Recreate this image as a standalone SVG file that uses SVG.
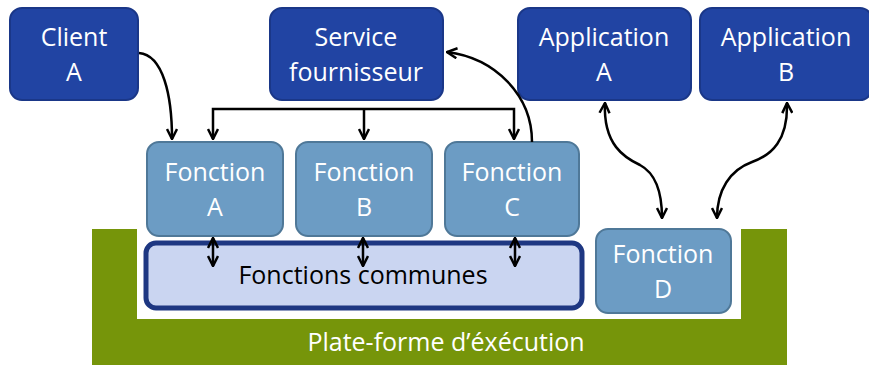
<svg xmlns="http://www.w3.org/2000/svg" width="869" height="365" viewBox="0 0 869 365">
<defs>
<style>
.top rect{fill:#2144A3;stroke:#1A3788;stroke-width:2}
.fn rect{fill:#6C9CC4;stroke:#4F7898;stroke-width:2}
text{font-family:"Open Sans","Liberation Sans",sans-serif;font-size:25px;text-anchor:middle}
.top text,.fn text,.plat text{fill:#fff}
.con path{fill:none;stroke:#000;stroke-width:2.5}
</style>
<marker id="ah" viewBox="0 0 10 10" refX="9" refY="5" markerWidth="5" markerHeight="5" orient="auto-start-reverse" markerUnits="strokeWidth">
<path d="M1,1 L9,5 L1,9" fill="none" stroke="#000" stroke-width="2"/>
</marker>
</defs>
<rect width="869" height="365" fill="#fff"/>
<g id="plateforme" class="plat">
<path d="M92,229 H137 V319 H741 V229 H787 V365 H92 Z" fill="#76950A"/>
<text x="446" y="351">Plate-forme d’éxécution</text>
</g>
<g id="communes">
<rect x="146" y="243" width="436" height="65" rx="10" fill="#CAD5F1" stroke="#1E3782" stroke-width="5"/>
<text x="363" y="284" fill="#000">Fonctions communes</text>
</g>
<g id="clientA" class="top"><rect x="10" y="8" width="128" height="92" rx="12"/><text x="74" y="46">Client</text><text x="74" y="81">A</text></g>
<g id="service" class="top"><rect x="270" y="8" width="173" height="92" rx="12"/><text x="356" y="46">Service</text><text x="356" y="81">fournisseur</text></g>
<g id="appA" class="top"><rect x="518" y="8" width="173" height="92" rx="12"/><text x="604" y="46">Application</text><text x="604" y="81">A</text></g>
<g id="appB" class="top"><rect x="700" y="8" width="172" height="92" rx="12"/><text x="786" y="46">Application</text><text x="786" y="81">B</text></g>
<g id="fonctionA" class="fn"><rect x="147" y="142" width="136" height="94" rx="12"/><text x="215" y="181">Fonction</text><text x="215" y="216">A</text></g>
<g id="fonctionB" class="fn"><rect x="296" y="142" width="136" height="94" rx="12"/><text x="364" y="181">Fonction</text><text x="364" y="216">B</text></g>
<g id="fonctionC" class="fn"><rect x="445" y="142" width="134" height="94" rx="12"/><text x="512" y="181">Fonction</text><text x="512" y="216">C</text></g>
<g id="fonctionD" class="fn"><rect x="596" y="229" width="135" height="84" rx="12"/><text x="663" y="263">Fonction</text><text x="663" y="298">D</text></g>
<g id="connectors" class="con">
<path d="M139,53 C163,55 172,95 172,139" marker-end="url(#ah)"/>
<path d="M213,139 V109 H514 V139" marker-start="url(#ah)" marker-end="url(#ah)"/>
<path d="M364,109 V139" marker-end="url(#ah)"/>
<path d="M532,142 C532,95 495,58 447,52" marker-end="url(#ah)"/>
<path d="M605,103 C603,145 625,158 640,165 C655,173 662,190 662,218" marker-start="url(#ah)" marker-end="url(#ah)"/>
<path d="M787,103 C788,140 772,155 752,162 C730,170 717,190 717,218" marker-start="url(#ah)" marker-end="url(#ah)"/>
<path d="M213,238 V266" marker-start="url(#ah)" marker-end="url(#ah)"/>
<path d="M363,238 V266" marker-start="url(#ah)" marker-end="url(#ah)"/>
<path d="M515,238 V266" marker-start="url(#ah)" marker-end="url(#ah)"/>
</g>
</svg>
